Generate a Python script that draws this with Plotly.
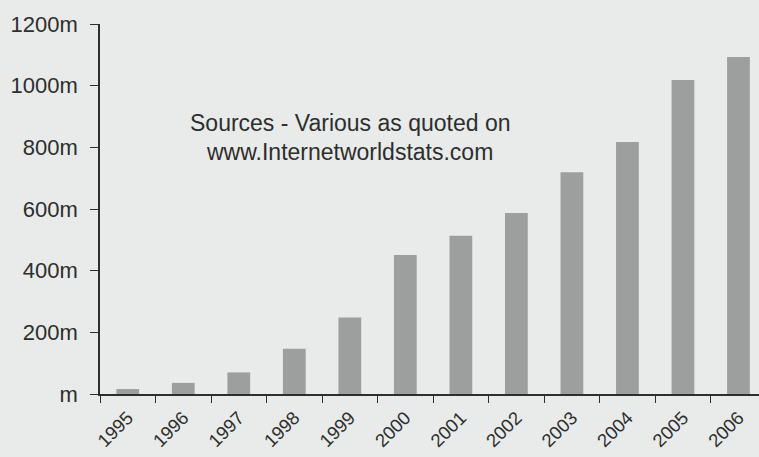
import plotly.graph_objects as go

# Internet users worldwide, millions
years = ["1995", "1996", "1997", "1998", "1999", "2000",
         "2001", "2002", "2003", "2004", "2005", "2006"]
users_m = [16, 36, 70, 147, 248, 451, 513, 587, 719, 817, 1018, 1093]

y_tickvals = [0, 200, 400, 600, 800, 1000, 1200]
y_ticktext = ["m", "200m", "400m", "600m", "800m", "1000m", "1200m"]

note_lines = ["Sources - Various as quoted on", "www.Internetworldstats.com"]

BG = "#e8ebe9"
BAR = "#9c9f9e"
INK = "#2e2e2e"
FONT = "Liberation Sans, Arial, Helvetica, sans-serif"

fig = go.Figure(
    go.Bar(
        x=years,
        y=users_m,
        marker=dict(color=BAR, line=dict(width=0)),
        width=0.41,
    )
)

# two-line source note, centred over the 1999 column
for i, line in enumerate(note_lines):
    fig.add_annotation(
        x=4, y=878 - i * 92, xref="x", yref="y",
        text=line, showarrow=False,
        font=dict(family=FONT, size=23, color=INK),
        xanchor="center", yanchor="middle",
    )

fig.update_layout(
    width=759, height=457,
    margin=dict(l=100, r=0, t=24, b=63),
    paper_bgcolor=BG, plot_bgcolor=BG,
    showlegend=False,
    font=dict(family=FONT, color=INK),
    xaxis=dict(
        type="category",
        range=[-0.5, 11.37],
        automargin=False,
        showgrid=False, zeroline=False,
        showline=True, linecolor=INK, linewidth=1.5,
        ticks="outside", tickson="boundaries", ticklen=7,
        tickcolor=INK, tickwidth=1.3,
        tickangle=-45,
        tickfont=dict(family=FONT, size=18.5, color=INK),
        ticklabelstandoff=4,
    ),
    yaxis=dict(
        range=[0, 1200],
        automargin=False,
        tickvals=y_tickvals, ticktext=y_ticktext,
        showgrid=False, zeroline=False,
        showline=True, linecolor=INK, linewidth=1.5,
        ticks="outside", ticklen=8, tickcolor=INK, tickwidth=1.3,
        tickfont=dict(family=FONT, size=22, color=INK),
        ticklabelstandoff=8,
    ),
)

fig.write_html("out.html")
